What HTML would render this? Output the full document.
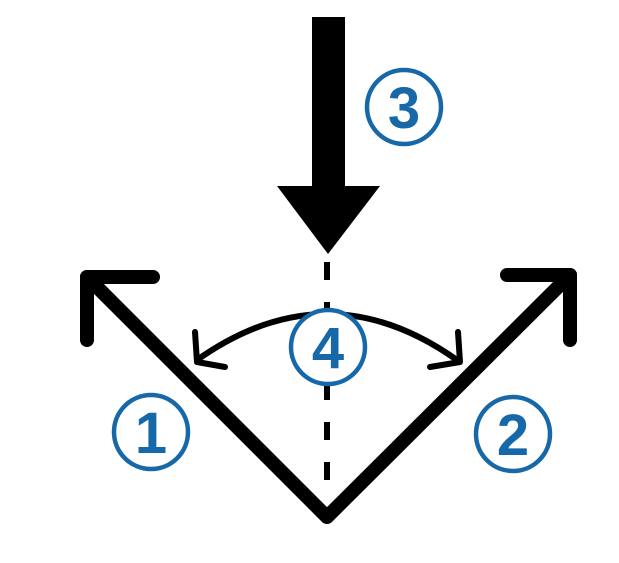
<!DOCTYPE html>
<html><head><style>html,body{margin:0;padding:0;background:#fff;width:619px;height:563px;overflow:hidden}</style></head>
<body>
<svg width="619" height="563" viewBox="0 0 619 563" xmlns="http://www.w3.org/2000/svg">
<g fill="none" stroke="#000" stroke-linecap="round" stroke-linejoin="round">
<polyline points="87,277 327,517 570,275" stroke-width="14"/>
<polyline points="153,277 87,277 87,340" stroke-width="14"/>
<polyline points="507,275 570,275 570,340" stroke-width="14"/>
<path d="M197,360 Q327,268 457,360" stroke-width="6"/>
<polyline points="195,332 197,362 225,367" stroke-width="6"/>
<polyline points="458,332 460,362 430,367" stroke-width="6"/>
<line x1="327" y1="262" x2="327" y2="482" stroke-width="6" stroke-dasharray="18 22" stroke-linecap="butt"/>
</g>
<rect x="312" y="17" width="33" height="172" fill="#000"/>
<polygon points="277,186 380,186 328,254" fill="#000"/>
<g fill="#fff" stroke="#1668a8" stroke-width="4.5">
<circle cx="151" cy="432" r="37"/>
<circle cx="513" cy="434" r="37"/>
<circle cx="328" cy="347" r="37"/>
<circle cx="404" cy="107" r="37"/>
</g>
<g fill="#1668a8" font-family="Liberation Sans, sans-serif" font-weight="bold" font-size="58" text-anchor="middle">
<text x="151" y="453">1</text>
<text x="513" y="455">2</text>
<text x="328" y="368">4</text>
<text x="404" y="128">3</text>
</g>
</svg>
</body></html>
